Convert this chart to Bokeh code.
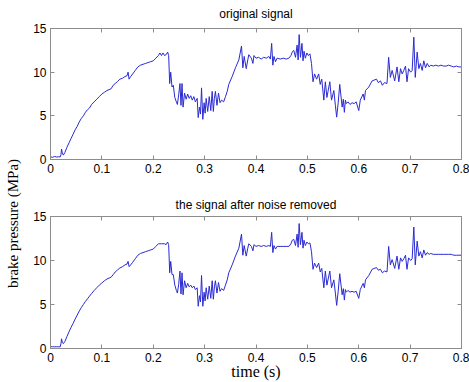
import math
from bokeh.plotting import figure
from bokeh.layouts import row, column
from bokeh.models import LinearAxis, Label, FixedTicker, Range1d, CustomLabelingPolicy
from bokeh.embed import file_html
from bokeh.resources import INLINE

# ---- data (time in s, brake pressure in MPa) ----
time_s = [
    0.000, 0.004, 0.008, 0.012, 0.016, 0.019, 0.0205, 0.0215, 0.023, 0.025,
    0.028, 0.032, 0.036, 0.040, 0.044, 0.048, 0.052, 0.056, 0.060, 0.064,
    0.068, 0.072, 0.076, 0.080, 0.085, 0.090, 0.095, 0.100, 0.105, 0.110,
    0.114, 0.118, 0.122, 0.126, 0.130, 0.135, 0.140, 0.145, 0.149, 0.151,
    0.153, 0.156, 0.160, 0.165, 0.170, 0.175, 0.180, 0.185, 0.190, 0.195,
    0.200, 0.205, 0.210, 0.213, 0.216, 0.219, 0.222, 0.225, 0.228, 0.230,
    0.232, 0.234, 0.2365, 0.239, 0.242, 0.245, 0.247, 0.2495, 0.252, 0.254,
    0.256, 0.258, 0.261, 0.264, 0.267, 0.270, 0.273, 0.276, 0.279, 0.282,
    0.2855, 0.2875, 0.290, 0.292, 0.294, 0.2965, 0.299, 0.301, 0.303, 0.306,
    0.309, 0.312, 0.3147, 0.317, 0.319, 0.321, 0.324, 0.327, 0.330, 0.333,
    0.337, 0.3406, 0.344, 0.347, 0.3536, 0.360, 0.3666, 0.3718, 0.3744, 0.377,
    0.381, 0.384, 0.386, 0.391, 0.394, 0.396, 0.400, 0.405, 0.410, 0.415,
    0.420, 0.425, 0.428, 0.4305, 0.4328, 0.435, 0.438, 0.441, 0.447, 0.453,
    0.459, 0.464, 0.468, 0.4705, 0.4735, 0.4769, 0.480, 0.482, 0.4840, 0.4865,
    0.4895, 0.4915, 0.4935, 0.496, 0.499, 0.502, 0.505, 0.508, 0.511, 0.514,
    0.518, 0.522, 0.525, 0.528, 0.532, 0.535, 0.538, 0.5437, 0.547, 0.5515,
    0.5545, 0.557, 0.560, 0.563, 0.5677, 0.570, 0.572, 0.574, 0.5757, 0.579,
    0.583, 0.587, 0.591, 0.595, 0.600, 0.603, 0.6086, 0.611, 0.6131, 0.6196,
    0.626, 0.6346, 0.638, 0.6423, 0.646, 0.650, 0.655, 0.6582, 0.6615, 0.665,
    0.670, 0.6745, 0.678, 0.6813, 0.6845, 0.6877, 0.691, 0.6939, 0.697, 0.701,
    0.704, 0.7072, 0.710, 0.7137, 0.717, 0.720, 0.7235, 0.7266, 0.730, 0.7332,
    0.737, 0.740, 0.745, 0.750, 0.755, 0.760, 0.765, 0.770, 0.775, 0.780,
    0.785, 0.790, 0.795, 0.800,
]

original_signal = [
    0.30, 0.25, 0.35, 0.28, 0.32, 0.30, 0.60, 1.20, 0.75, 0.50,
    0.80, 1.40, 1.90, 2.40, 2.90, 3.40, 3.80, 4.30, 4.70, 5.00,
    5.40, 5.70, 5.90, 6.30, 6.60, 6.90, 7.20, 7.50, 7.70, 7.90,
    8.00, 8.10, 8.50, 8.70, 8.90, 9.20, 9.30, 9.50, 9.60, 10.0,
    9.20, 9.50, 9.80, 10.2, 10.6, 10.8, 10.9, 11.0, 11.1, 11.2,
    11.3, 11.6, 11.9, 12.2, 11.9, 12.2, 11.9, 12.0, 12.3, 11.9,
    8.7, 10.0, 8.3, 8.5, 7.1, 6.6, 6.3, 7.4, 8.7, 6.2,
    8.7, 6.0, 7.6, 6.9, 7.5, 7.0, 7.3, 6.8, 7.2, 6.6,
    7.0, 4.8, 6.0, 5.2, 8.2, 4.6, 6.5, 5.3, 7.0, 5.5,
    7.2, 5.6, 7.8, 5.5, 7.0, 7.8, 6.2, 7.6, 6.5, 6.8,
    6.6, 7.2, 7.8, 8.6, 9.5, 10.5, 11.4, 13.0, 10.5, 11.8,
    10.4, 11.4, 12.0, 11.6, 11.0, 11.9, 11.6, 11.7, 11.5, 11.7,
    11.6, 11.8, 11.5, 13.3, 10.8, 11.8, 11.2, 11.6, 11.5, 11.6,
    11.5, 11.6, 11.9, 12.3, 12.5, 11.7, 13.1, 11.4, 14.3, 11.7,
    13.3, 11.3, 12.4, 11.6, 12.2, 11.9, 12.1, 11.0, 8.9, 9.8,
    9.2, 9.8, 8.6, 9.2, 6.8, 8.9, 7.1, 8.9, 6.8, 7.9,
    6.2, 4.85, 6.5, 8.6, 6.0, 6.9, 5.4, 6.8, 6.4, 6.6,
    6.3, 6.5, 6.4, 6.6, 5.6, 6.8, 7.5, 6.8, 7.9, 8.3,
    9.0, 9.2, 8.8, 9.0, 8.5, 8.8, 8.7, 11.7, 9.4, 10.2,
    9.0, 10.6, 8.9, 10.4, 9.8, 10.2, 10.7, 8.9, 10.4, 10.0,
    10.2, 14.0, 9.4, 12.3, 10.4, 11.0, 10.2, 11.3, 10.5, 11.0,
    10.6, 10.8, 10.7, 10.8, 10.7, 10.8, 10.7, 10.7, 10.8, 10.7,
    10.6, 10.7, 10.6, 10.6,
]

denoised_signal = [
    0.20, 0.20, 0.20, 0.20, 0.20, 0.20, 0.60, 1.10, 0.70, 0.55,
    0.80, 1.35, 1.90, 2.40, 2.85, 3.35, 3.80, 4.25, 4.65, 5.00,
    5.35, 5.65, 5.95, 6.25, 6.60, 6.90, 7.20, 7.45, 7.70, 7.90,
    8.00, 8.10, 8.40, 8.70, 8.90, 9.15, 9.30, 9.50, 9.60, 9.90,
    9.30, 9.50, 9.80, 10.2, 10.6, 10.8, 10.9, 11.0, 11.1, 11.2,
    11.3, 11.6, 11.9, 11.9, 11.9, 11.9, 11.9, 11.8, 12.1, 11.8,
    8.6, 9.9, 8.4, 8.4, 7.2, 6.6, 6.3, 7.3, 8.8, 6.2,
    8.6, 6.1, 7.7, 6.9, 7.4, 7.0, 7.2, 6.9, 7.1, 6.7,
    6.9, 4.8, 6.0, 5.3, 8.3, 4.8, 6.4, 5.4, 6.9, 5.6,
    7.1, 5.7, 7.7, 5.6, 7.0, 7.7, 6.3, 7.5, 6.5, 6.8,
    6.6, 7.2, 7.8, 8.6, 9.5, 10.5, 11.4, 13.0, 10.6, 11.7,
    10.5, 11.4, 11.9, 11.6, 11.1, 11.8, 11.6, 11.7, 11.6, 11.7,
    11.6, 11.7, 11.6, 13.2, 10.9, 11.7, 11.3, 11.6, 11.6, 11.6,
    11.6, 11.6, 11.9, 12.3, 12.4, 11.7, 13.0, 11.5, 14.2, 11.8,
    13.2, 11.4, 12.3, 11.7, 12.1, 11.9, 12.0, 11.0, 9.0, 9.7,
    9.2, 9.7, 8.7, 9.1, 6.9, 8.8, 7.2, 8.8, 6.9, 7.8,
    6.3, 4.9, 6.5, 8.5, 6.1, 6.8, 5.5, 6.7, 6.4, 6.6,
    6.4, 6.5, 6.4, 6.5, 5.7, 6.7, 7.4, 6.9, 7.8, 8.3,
    9.0, 9.2, 8.9, 9.0, 8.6, 8.8, 8.7, 11.6, 9.5, 10.1,
    9.1, 10.5, 9.0, 10.3, 9.9, 10.2, 10.6, 9.0, 10.3, 10.0,
    10.2, 13.8, 9.5, 12.2, 10.5, 11.0, 10.3, 11.2, 10.6, 10.9,
    10.7, 10.8, 10.7, 10.7, 10.7, 10.7, 10.7, 10.7, 10.7, 10.7,
    10.6, 10.6, 10.6, 10.6,
]

x_ticks = [0, 0.1, 0.2, 0.3, 0.4, 0.5, 0.6, 0.7, 0.8]
y_ticks = [0, 5, 10, 15]
titles = ["original signal", "the signal after noise removed"]
x_label = "time (s)"
y_label = "brake pressure (MPa)"

LINE_COLOR = "#2a2ad2"
AXIS_COLOR = "#8c8c8c"
SANS = "Liberation Sans"
SERIF = "Liberation Serif"

NO_LABELS = """
const n = indices.size
for (let i = 0; i < n; i++) { indices.unset(i) }
return indices
"""


def style_axis(ax, ticks, show_labels):
    ax.ticker = FixedTicker(ticks=ticks)
    ax.axis_line_color = AXIS_COLOR
    ax.major_tick_line_color = AXIS_COLOR
    ax.major_tick_in = 4
    ax.major_tick_out = 0
    ax.minor_tick_line_color = None
    ax.major_label_text_font = SANS
    ax.major_label_text_color = "#000000"
    if show_labels:
        ax.major_label_text_font_size = "12px"
        ax.major_label_standoff = 4
    else:
        ax.major_label_text_font_size = "1px"
        ax.major_label_standoff = 0
        ax.major_label_policy = CustomLabelingPolicy(code=NO_LABELS)


def make_panel(values, title, height, border_top, border_bottom, standoff, xlab=None):
    p = figure(width=444, height=height, output_backend="svg", toolbar_location=None,
               x_range=Range1d(0, 0.8), y_range=Range1d(0, 15),
               min_border_left=25, min_border_right=8,
               min_border_top=border_top, min_border_bottom=border_bottom)
    p.background_fill_color = "white"
    p.border_fill_color = "white"
    p.outline_line_color = AXIS_COLOR
    p.grid.visible = False
    p.title.text = title
    p.title.align = "center"
    p.title.text_font = SANS
    p.title.text_font_size = "12px"
    p.title.text_font_style = "normal"
    p.title.text_color = "#000000"
    p.title.standoff = standoff
    bottom_ax = p.below[0]
    left_ax = p.left[0]
    style_axis(bottom_ax, x_ticks, True)
    style_axis(left_ax, y_ticks, True)
    top_ax = LinearAxis()
    right_ax = LinearAxis()
    style_axis(top_ax, x_ticks, False)
    style_axis(right_ax, y_ticks, False)
    p.add_layout(top_ax, "above")
    p.add_layout(right_ax, "right")
    p.line(time_s, values, line_color=LINE_COLOR, line_width=1)
    if xlab:
        bottom_ax.axis_label = xlab
        bottom_ax.axis_label_text_font = SERIF
        bottom_ax.axis_label_text_font_size = "16px"
        bottom_ax.axis_label_text_font_style = "normal"
        bottom_ax.axis_label_text_color = "#000000"
        bottom_ax.axis_label_standoff = -2
    return p


p_top = make_panel(original_signal, titles[0], 190, 28, 31, 8)
p_bot = make_panel(denoised_signal, titles[1], 192, 26, 34, 2, xlab=x_label)

p_lab = figure(width=25, height=382, output_backend="svg", toolbar_location=None,
               x_range=Range1d(0, 25), y_range=Range1d(0, 382),
               min_border_left=0, min_border_right=0, min_border_top=0, min_border_bottom=0)
p_lab.axis.visible = False
p_lab.grid.visible = False
p_lab.outline_line_color = None
p_lab.add_layout(Label(x=12, y=159, text=y_label, angle=math.pi / 2,
                       text_align="center", text_baseline="middle",
                       text_font=SERIF, text_font_size="15px", text_color="#000000"))

layout = row(p_lab, column(p_top, p_bot))

with open("out.html", "w") as f:
    f.write(file_html(layout, INLINE))
